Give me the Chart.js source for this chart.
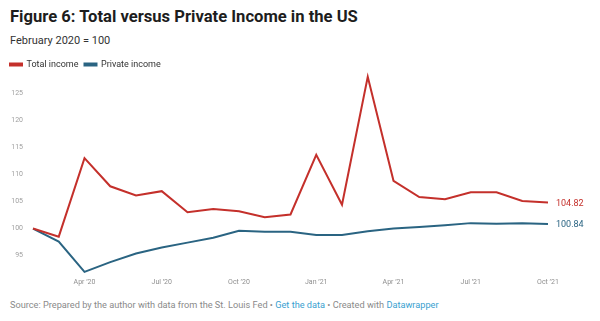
<!DOCTYPE html>
<html>
<head>
<meta charset="utf-8">
<script src="https://cdn.jsdelivr.net/npm/chart.js@4"></script>
<style>
  html, body { margin: 0; padding: 0; background: #fff; }
  body { width: 600px; height: 321px; position: relative; overflow: hidden; font-family: Roboto, sans-serif; }
  #title { position: absolute; left: 10px; top: 7px; font-size: 16.6px; font-weight: bold; color: #1d1d1d; }
  #subtitle { position: absolute; left: 10px; top: 34px; font-size: 11px; color: #333; }
  #wrap { position: absolute; left: 0; top: 52px; width: 600px; height: 237px; }
  #footer { position: absolute; left: 10px; top: 299px; font-size: 9.2px; color: #8a8a8a; }
  #footer span { color: #3a9fd0; }
</style>
</head>
<body>
<div id="title">Figure 6: Total versus Private Income in the US</div>
<div id="subtitle">February 2020 = 100</div>
<div id="wrap"><canvas id="chart"></canvas></div>
<div id="footer">Source: Prepared by the author with data from the St. Louis Fed • <span>Get the data</span> • Created with <span>Datawrapper</span></div>
<script>
/* monthly index values, Feb 2020 = 100 */
const MONTHS = ['Feb ’20', 'Mar ’20', 'Apr ’20', 'May ’20', 'Jun ’20', 'Jul ’20', 'Aug ’20',
  'Sep ’20', 'Oct ’20', 'Nov ’20', 'Dec ’20', 'Jan ’21', 'Feb ’21', 'Mar ’21', 'Apr ’21',
  'May ’21', 'Jun ’21', 'Jul ’21', 'Aug ’21', 'Sep ’21', 'Oct ’21'];
const TOTAL = [100, 98.5, 113.0, 107.8, 106.1, 106.9, 103.0, 103.6, 103.2, 102.1, 102.6,
  113.6, 104.4, 128.0, 108.8, 105.8, 105.4, 106.7, 106.7, 105.1, 104.82];
const PRIVATE = [100, 97.6, 92.0, 93.8, 95.4, 96.5, 97.4, 98.3, 99.6, 99.4, 99.4,
  98.8, 98.8, 99.5, 100.0, 100.3, 100.6, 101.0, 100.9, 101.0, 100.84];
const Y_TICKS = [95, 100, 105, 110, 115, 120, 125];
const SHOWN_MONTHS = ['Apr', 'Jul', 'Oct', 'Jan'];

const RED = '#c4302b';
const BLUE = '#2a6482';

/* value label at the end of each line */
const endLabels = {
  id: 'endLabels',
  afterDatasetsDraw(chart) {
    const ctx = chart.ctx;
    ctx.save();
    ctx.font = '9px Roboto, sans-serif';
    ctx.textAlign = 'left';
    ctx.textBaseline = 'middle';
    chart.data.datasets.forEach((ds, i) => {
      const pts = chart.getDatasetMeta(i).data;
      const last = pts[pts.length - 1];
      const v = ds.data[ds.data.length - 1];
      ctx.fillStyle = ds.borderColor;
      ctx.fillText(v.toFixed(2), last.x + 8, last.y + 1);
    });
    ctx.restore();
  }
};

new Chart(document.getElementById('chart'), {
  type: 'line',
  data: {
    labels: MONTHS,
    datasets: [
      {label: 'Total income', data: TOTAL, borderColor: RED, backgroundColor: RED,
       borderWidth: 2, pointRadius: 0, tension: 0, clip: false},
      {label: 'Private income', data: PRIVATE, borderColor: BLUE, backgroundColor: BLUE,
       borderWidth: 2, pointRadius: 0, tension: 0, clip: false},
    ],
  },
  options: {
    responsive: true,
    maintainAspectRatio: false,
    animation: false,
    layout: {padding: {left: 4, right: 52, top: 2, bottom: 0}},
    plugins: {
      legend: {
        align: 'start',
        labels: {
          boxWidth: 12, boxHeight: 2, padding: 6,
          color: '#333', font: {family: 'Roboto', size: 9},
        },
      },
      tooltip: {enabled: false},
    },
    scales: {
      x: {
        grid: {display: false, drawTicks: false},
        border: {display: false},
        ticks: {
          autoSkip: false, maxRotation: 0, padding: 3,
          color: '#8f8f8f', font: {family: 'Roboto', size: 7},
          callback: (v, i) => SHOWN_MONTHS.includes(MONTHS[i].slice(0, 3)) ? MONTHS[i] : '',
        },
      },
      y: {
        min: 91.5, max: 127.6,
        grid: {display: false, drawTicks: false},
        border: {display: false},
        afterBuildTicks: (s) => { s.ticks = Y_TICKS.map(v => ({value: v})); },
        afterFit: (s) => { s.width = 29; },
        ticks: {padding: 10, color: '#a0a0a0', font: {family: 'Roboto', size: 7}},
      },
    },
  },
  plugins: [endLabels],
});
</script>
</body>
</html>
